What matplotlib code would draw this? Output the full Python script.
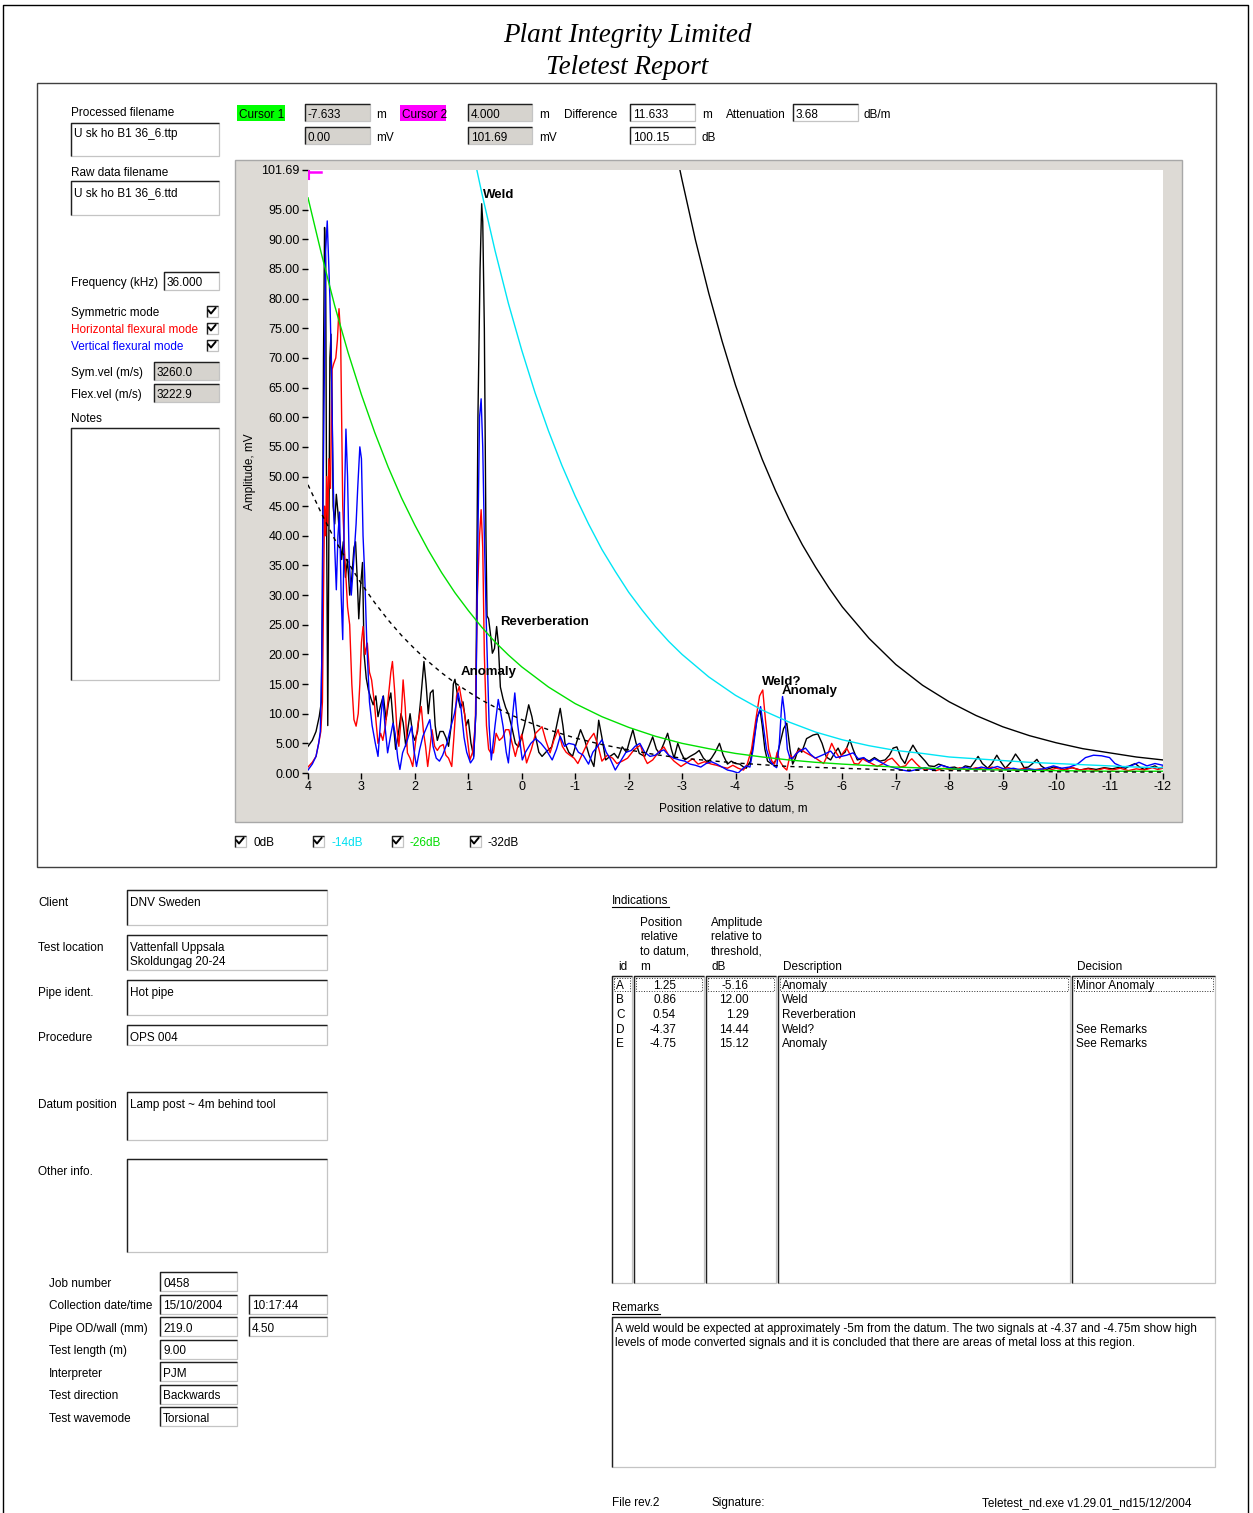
import matplotlib
matplotlib.use("Agg")
import matplotlib.pyplot as plt
from matplotlib.patches import Rectangle

W, H = 1253, 1513
FONT = "Liberation Sans"

# ---- data read from the report ----
# symmetric mode (black), horizontal flexural (red), vertical flexural (blue): (position m, amplitude mV)
sym_pts = [(4.00, 4.5), (3.92, 5.5), (3.85, 7.0), (3.79, 9.5), (3.75, 12.0), (3.73, 30), (3.71, 70), (3.69, 92.0),
           (3.67, 86), (3.65, 40), (3.63, 8.0), (3.61, 40), (3.59, 70), (3.57, 74.0), (3.55, 62), (3.53, 45),
           (3.50, 42), (3.47, 47), (3.44, 44), (3.41, 40), (3.37, 36), (3.34, 39), (3.30, 33), (3.26, 36),
           (3.22, 30), (3.18, 33), (3.14, 38), (3.11, 39), (3.08, 33), (3.05, 26), (3.02, 31), (2.98, 35.5),
           (2.95, 20), (2.91, 16), (2.87, 14), (2.82, 12.5), (2.78, 11.5), (2.73, 13), (2.69, 9.5), (2.64, 11.5),
           (2.59, 13), (2.54, 9.0), (2.49, 12), (2.45, 13.5), (2.41, 9.0), (2.36, 4.0), (2.31, 6.5), (2.26, 10.0),
           (2.22, 8.5), (2.17, 4.5), (2.13, 7.5), (2.09, 10), (2.04, 6.5), (2.00, 5.5), (1.95, 7.0), (1.89, 12.5),
           (1.83, 18.8), (1.79, 15), (1.75, 10), (1.71, 13.5), (1.66, 14.0), (1.62, 8.0), (1.58, 5.5), (1.53, 7.0),
           (1.47, 7.0), (1.42, 6.0), (1.37, 4.5), (1.32, 8), (1.28, 15.0), (1.25, 15.8), (1.20, 13), (1.15, 11),
           (1.10, 12), (1.04, 8.0), (1.00, 9.0), (0.95, 5), (0.90, 2.8), (0.86, 10), (0.82, 60), (0.78, 85),
           (0.75, 96.0), (0.73, 93), (0.70, 75), (0.67, 40), (0.65, 26.5), (0.62, 26), (0.58, 23), (0.55, 20.2),
           (0.51, 21), (0.47, 24.7), (0.44, 22), (0.40, 14.5), (0.35, 12.5), (0.30, 11.0), (0.25, 10.0),
           (0.18, 7.5), (0.12, 5.0), (0.06, 4.4), (0.02, 5.5), (-0.05, 8), (-0.13, 11.5), (-0.19, 9.5),
           (-0.26, 6.1), (-0.32, 3.5), (-0.38, 2.8), (-0.45, 3.5), (-0.56, 4.4), (-0.63, 7), (-0.72, 10.9),
           (-0.77, 8), (-0.81, 5.0), (-0.88, 3.5), (-0.95, 2.8), (-1.02, 5), (-1.10, 7.3), (-1.18, 5.5),
           (-1.26, 3), (-1.35, 1.1), (-1.40, 5), (-1.44, 8.9), (-1.50, 6), (-1.57, 2.2), (-1.65, 2.8),
           (-1.73, 3.3), (-1.80, 2.5), (-1.88, 4.4), (-1.96, 3.5), (-2.02, 5.5), (-2.08, 7.3), (-2.14, 5),
           (-2.20, 3.3), (-2.30, 2.8), (-2.38, 4.5), (-2.45, 6.1), (-2.52, 4), (-2.58, 3.3), (-2.66, 5),
           (-2.73, 6.7), (-2.80, 4), (-2.85, 2.5), (-2.92, 5.0), (-2.98, 3.5), (-3.05, 2.2), (-3.15, 2.8),
           (-3.25, 3.3), (-3.32, 3.8), (-3.40, 2.5), (-3.48, 1.8), (-3.55, 2.5), (-3.62, 3.5), (-3.70, 5.0),
           (-3.77, 3.0), (-3.85, 1.5), (-3.92, 2.0), (-4.00, 1.6), (-4.08, 1.5), (-4.15, 1.0), (-4.20, 0.8),
           (-4.28, 2), (-4.35, 6), (-4.41, 9.5), (-4.46, 10.6), (-4.50, 8), (-4.55, 4), (-4.60, 2.0),
           (-4.68, 1.5), (-4.75, 2.0), (-4.82, 4.5), (-4.90, 7.5), (-4.96, 8.4), (-5.02, 4), (-5.07, 1.5),
           (-5.12, 2.5), (-5.18, 4.2), (-5.24, 3.5), (-5.33, 5.8), (-5.45, 6.4), (-5.54, 6.6), (-5.62, 5.0),
           (-5.70, 2.7), (-5.78, 2.2), (-5.85, 3.3), (-5.92, 4.2), (-5.98, 3.0), (-6.05, 3.5), (-6.14, 5.6),
           (-6.20, 4.0), (-6.28, 2.2), (-6.40, 2.5), (-6.50, 2.0), (-6.60, 2.6), (-6.70, 2.0), (-6.80, 2.2),
           (-6.88, 3.0), (-6.95, 4.2), (-7.02, 4.4), (-7.10, 2.5), (-7.17, 1.6), (-7.25, 3.5), (-7.32, 4.7),
           (-7.40, 3.5), (-7.48, 2.7), (-7.55, 2.0), (-7.62, 1.2), (-7.72, 1.1), (-7.80, 1.5), (-7.90, 1.2),
           (-8.00, 0.9), (-8.10, 1.0), (-8.20, 0.6), (-8.30, 1.2), (-8.40, 1.0), (-8.48, 2.0), (-8.54, 2.8),
           (-8.62, 1.6), (-8.72, 0.8), (-8.80, 1.6), (-8.89, 3.0), (-8.97, 1.8), (-9.05, 0.8), (-9.15, 1.8),
           (-9.24, 3.2), (-9.32, 2.2), (-9.40, 0.9), (-9.48, 1.0), (-9.56, 1.6), (-9.64, 2.3), (-9.72, 1.2),
           (-9.82, 0.6), (-9.95, 1.0), (-10.05, 0.9), (-10.15, 0.6), (-10.30, 0.9), (-10.45, 0.5), (-10.60, 0.8),
           (-10.75, 0.6), (-10.90, 0.9), (-11.05, 0.7), (-11.20, 1.0), (-11.30, 0.8), (-11.40, 1.3),
           (-11.48, 1.6), (-11.56, 1.0), (-11.65, 0.6), (-11.75, 0.9), (-11.85, 1.2), (-11.92, 0.8), (-12.00, 1.0)]

hor_pts = [(4.00, 1.0), (3.92, 1.8), (3.85, 2.8), (3.79, 5.5), (3.76, 7.0), (3.73, 12), (3.71, 30), (3.69, 45),
           (3.67, 40), (3.65, 50), (3.63, 42), (3.61, 53), (3.58, 48), (3.55, 68), (3.52, 69), (3.48, 70),
           (3.45, 73), (3.42, 78.3), (3.39, 74), (3.37, 60), (3.35, 45), (3.32, 38), (3.29, 33), (3.26, 28),
           (3.22, 25), (3.18, 15), (3.14, 9), (3.10, 7.9), (3.06, 10), (3.03, 15), (3.00, 22), (2.97, 24.7),
           (2.93, 20), (2.89, 21.9), (2.85, 17), (2.81, 15.7), (2.76, 12), (2.72, 8), (2.69, 5.0), (2.64, 6.7),
           (2.60, 5.5), (2.55, 8.0), (2.50, 12.5), (2.45, 17), (2.42, 18.8), (2.38, 14), (2.34, 8), (2.30, 4.5),
           (2.26, 9), (2.22, 15.7), (2.18, 11), (2.14, 3.4), (2.09, 2.5), (2.04, 1.1), (1.99, 5), (1.93, 9),
           (1.88, 11.2), (1.84, 7), (1.80, 4.5), (1.76, 1.1), (1.72, 4), (1.68, 7.3), (1.63, 4.5), (1.58, 3.8),
           (1.53, 4.5), (1.47, 4.8), (1.42, 3.0), (1.37, 2.5), (1.31, 1.1), (1.27, 6), (1.22, 13), (1.17, 14.6),
           (1.12, 12), (1.07, 10), (1.02, 6), (0.97, 2.2), (0.92, 3.5), (0.87, 8), (0.83, 30), (0.79, 40),
           (0.76, 44.4), (0.73, 38), (0.70, 20), (0.66, 8), (0.62, 4.0), (0.58, 3.4), (0.53, 3.4), (0.48, 6.7),
           (0.42, 5.5), (0.36, 6.0), (0.30, 7.3), (0.24, 7.3), (0.18, 5.0), (0.12, 2.8), (0.06, 5), (0.00, 6.5),
           (-0.09, 1.7), (-0.18, 4), (-0.26, 6.7), (-0.38, 7.8), (-0.45, 5.5), (-0.53, 3.4), (-0.60, 5.5),
           (-0.68, 7.3), (-0.76, 4.5), (-0.83, 3.5), (-0.90, 3.0), (-0.98, 2.5), (-1.05, 1.6), (-1.15, 3.5),
           (-1.26, 5.6), (-1.35, 6.7), (-1.43, 4.5), (-1.50, 2.0), (-1.60, 3.0), (-1.70, 2.5), (-1.78, 1.6),
           (-1.88, 2.0), (-1.98, 2.5), (-2.10, 3.9), (-2.22, 4.7), (-2.30, 2.5), (-2.35, 1.6), (-2.45, 2.2),
           (-2.56, 3.5), (-2.66, 4.4), (-2.75, 3.0), (-2.85, 2.0), (-2.98, 1.1), (-3.10, 1.8), (-3.20, 2.4),
           (-3.30, 1.5), (-3.42, 1.9), (-3.55, 1.5), (-3.65, 1.3), (-3.75, 1.0), (-3.85, 0.8), (-3.95, 1.3),
           (-4.05, 0.8), (-4.15, 0.5), (-4.22, 1.5), (-4.30, 4), (-4.38, 9), (-4.45, 13), (-4.51, 14.0),
           (-4.56, 9), (-4.62, 4), (-4.68, 2.0), (-4.73, 1.5), (-4.78, 3.5), (-4.83, 2.0), (-4.90, 1.0),
           (-4.96, 0.5), (-5.02, 3.0), (-5.08, 2.5), (-5.15, 3.5), (-5.22, 4.0), (-5.30, 3.5), (-5.40, 3.0),
           (-5.50, 2.5), (-5.58, 2.0), (-5.65, 1.6), (-5.72, 3.0), (-5.80, 5.0), (-5.88, 3.5), (-5.95, 2.5),
           (-6.02, 3.5), (-6.08, 4.2), (-6.15, 3.0), (-6.22, 1.6), (-6.30, 1.5), (-6.38, 2.4), (-6.45, 2.0),
           (-6.55, 1.6), (-6.65, 1.1), (-6.75, 1.5), (-6.85, 2.2), (-6.93, 2.5), (-7.00, 1.8), (-7.08, 1.0),
           (-7.18, 1.2), (-7.25, 2.0), (-7.30, 2.4), (-7.38, 1.6), (-7.45, 1.0), (-7.55, 0.5), (-7.65, 0.8),
           (-7.75, 0.4), (-7.90, 0.8), (-8.05, 0.5), (-8.20, 0.9), (-8.35, 0.5), (-8.50, 0.9), (-8.65, 0.6),
           (-8.80, 1.0), (-8.95, 0.6), (-9.10, 0.9), (-9.25, 0.5), (-9.40, 0.8), (-9.55, 0.5), (-9.70, 0.7),
           (-9.85, 0.4), (-10.00, 0.8), (-10.15, 0.5), (-10.30, 0.9), (-10.45, 0.5), (-10.60, 0.7),
           (-10.75, 0.4), (-10.90, 0.8), (-11.05, 0.5), (-11.20, 0.8), (-11.35, 0.4), (-11.50, 0.7),
           (-11.65, 0.5), (-11.80, 0.9), (-11.90, 0.6), (-12.00, 0.8)]

ver_pts = [(4.00, 0.5), (3.92, 1.5), (3.85, 2.8), (3.80, 5), (3.77, 7), (3.74, 20), (3.72, 45), (3.70, 62),
           (3.67, 88), (3.64, 93.1), (3.62, 88), (3.59, 80), (3.56, 68), (3.53, 50), (3.50, 38), (3.47, 30.9),
           (3.44, 40), (3.41, 44), (3.38, 30), (3.35, 22.5), (3.32, 45), (3.29, 58), (3.26, 50), (3.23, 36),
           (3.19, 30), (3.15, 35), (3.10, 42), (3.07, 48), (3.03, 55), (3.00, 53), (2.97, 40), (2.94, 33.7),
           (2.90, 22), (2.85, 12), (2.80, 8), (2.74, 5), (2.69, 2.8), (2.64, 9), (2.60, 12.9), (2.56, 8),
           (2.51, 3.4), (2.46, 6), (2.41, 8.4), (2.37, 6.7), (2.32, 2.5), (2.28, 0.6), (2.23, 3.4), (2.16, 5),
           (2.06, 7.9), (2.02, 4), (1.97, 1.1), (1.91, 4), (1.85, 6.2), (1.79, 7.5), (1.72, 9.0), (1.66, 4.5),
           (1.60, 2.5), (1.54, 2.0), (1.48, 3.0), (1.40, 5.0), (1.32, 8), (1.26, 10.0), (1.19, 13.5),
           (1.14, 11.2), (1.08, 6), (1.03, 3.5), (0.96, 1.7), (0.90, 2.5), (0.86, 10), (0.82, 40), (0.79, 60),
           (0.76, 63.1), (0.73, 55), (0.70, 40), (0.66, 24), (0.61, 8), (0.57, 2.2), (0.50, 8), (0.44, 12.4),
           (0.39, 10), (0.35, 7.9), (0.29, 3.5), (0.25, 1.7), (0.19, 8), (0.13, 13.5), (0.08, 8.4), (0.03, 5),
           (-0.01, 2.2), (-0.07, 3.5), (-0.17, 5), (-0.26, 5.8), (-0.36, 5.0), (-0.45, 4.0), (-0.57, 2.2),
           (-0.65, 4), (-0.72, 6.2), (-0.80, 4.5), (-0.88, 5.0), (-0.98, 4.8), (-1.06, 3.5), (-1.15, 3.0),
           (-1.25, 1.5), (-1.33, 3.5), (-1.42, 4.5), (-1.50, 5.6), (-1.58, 3.5), (-1.65, 2.5), (-1.75, 0.5),
           (-1.85, 2.0), (-1.95, 3.5), (-2.05, 3.8), (-2.12, 4.5), (-2.21, 5.0), (-2.30, 3.5), (-2.40, 2.8),
           (-2.50, 3.0), (-2.58, 3.6), (-2.66, 3.9), (-2.75, 3.0), (-2.85, 2.5), (-2.95, 2.2), (-3.05, 2.0),
           (-3.15, 1.5), (-3.25, 1.3), (-3.35, 1.0), (-3.45, 1.6), (-3.55, 1.9), (-3.65, 1.5), (-3.75, 1.0),
           (-3.85, 0.5), (-3.95, 0.3), (-4.05, 0.0), (-4.12, 0.6), (-4.20, 1.2), (-4.27, 1.0), (-4.33, 4),
           (-4.40, 9.0), (-4.47, 11.2), (-4.52, 8), (-4.58, 4), (-4.65, 2.0), (-4.72, 1.2), (-4.77, 0.9),
           (-4.82, 5), (-4.86, 11), (-4.88, 12.9), (-4.92, 10), (-4.97, 4), (-5.02, 2.5), (-5.07, 2.5),
           (-5.13, 3.2), (-5.20, 3.7), (-5.31, 4.2), (-5.40, 3.2), (-5.49, 2.5), (-5.57, 2.8), (-5.67, 3.2),
           (-5.78, 3.7), (-5.88, 2.6), (-5.98, 2.8), (-6.08, 3.0), (-6.20, 3.4), (-6.30, 2.4), (-6.40, 2.6),
           (-6.50, 1.8), (-6.60, 2.4), (-6.72, 1.8), (-6.85, 1.2), (-7.00, 0.8), (-7.12, 0.5), (-7.25, 0.3),
           (-7.40, 0.6), (-7.55, 0.9), (-7.70, 0.5), (-7.85, 1.3), (-8.00, 0.9), (-8.15, 0.6), (-8.30, 1.0),
           (-8.45, 0.6), (-8.60, 1.0), (-8.75, 0.7), (-8.90, 1.1), (-9.05, 0.6), (-9.20, 0.8), (-9.35, 0.5),
           (-9.50, 0.7), (-9.65, 0.5), (-9.80, 0.8), (-9.95, 1.2), (-10.10, 0.8), (-10.25, 1.0), (-10.40, 1.5),
           (-10.55, 2.6), (-10.70, 3.0), (-10.85, 2.9), (-11.00, 2.6), (-11.10, 1.6), (-11.25, 1.0),
           (-11.40, 1.2), (-11.55, 1.8), (-11.70, 1.2), (-11.85, 1.6), (-12.00, 1.3)]

# threshold (DAC) curves
dac0_pts = [(-2.96, 101.69), (-3.0, 100.0), (-3.25, 89.9), (-3.5, 80.9), (-3.75, 72.8), (-4.0, 65.4),
            (-4.25, 58.9), (-4.5, 52.9), (-4.75, 47.6), (-5.0, 42.8), (-5.25, 38.5), (-5.5, 34.7), (-5.75, 31.2),
            (-6.0, 28.0), (-6.5, 22.7), (-7.0, 18.3), (-7.5, 14.8), (-8.0, 12.0), (-8.5, 9.7), (-9.0, 7.8),
            (-9.5, 6.3), (-10.0, 5.1), (-10.5, 4.1), (-11.0, 3.4), (-11.5, 2.7), (-12.0, 2.2)]
dac14_pts = [(0.84, 101.69), (0.75, 97.9), (0.5, 88.1), (0.25, 79.2), (0.0, 71.3), (-0.25, 64.1), (-0.5, 57.7),
             (-0.75, 51.9), (-1.0, 46.7), (-1.25, 42.0), (-1.5, 37.7), (-1.75, 34.0), (-2.0, 30.5),
             (-2.25, 27.5), (-2.5, 24.7), (-2.75, 22.2), (-3.0, 20.0), (-3.5, 16.2), (-4.0, 13.1), (-4.5, 10.6),
             (-5.0, 8.6), (-5.5, 6.9), (-6.0, 5.6), (-6.5, 4.6), (-7.0, 3.8), (-7.5, 3.3), (-8.0, 2.7),
             (-8.5, 2.4), (-9.0, 2.1), (-9.5, 1.8), (-10.0, 1.6), (-10.5, 1.4), (-11.0, 1.2), (-11.5, 1.0),
             (-12.0, 0.9)]
dac26_pts = [(4.0, 97.0), (3.75, 87.6), (3.5, 78.8), (3.25, 70.9), (3.0, 63.8), (2.75, 57.4), (2.5, 51.6),
             (2.25, 46.4), (2.0, 41.8), (1.75, 37.6), (1.5, 33.8), (1.25, 30.4), (1.0, 27.4), (0.75, 24.6),
             (0.5, 22.1), (0.25, 19.9), (0.0, 17.9), (-0.5, 14.5), (-1.0, 11.7), (-1.5, 9.5), (-2.0, 7.7),
             (-2.5, 6.2), (-3.0, 5.0), (-3.5, 4.1), (-4.0, 3.3), (-4.5, 2.7), (-5.0, 2.2), (-5.5, 1.8),
             (-6.0, 1.5), (-7.0, 1.0), (-8.0, 0.7), (-9.0, 0.5), (-10.0, 0.4), (-11.0, 0.3), (-12.0, 0.3)]
dac32_pts = [(4.0, 48.6), (3.75, 43.8), (3.5, 39.4), (3.25, 35.5), (3.0, 31.9), (2.75, 28.7), (2.5, 25.8),
             (2.25, 23.2), (2.0, 20.9), (1.75, 18.8), (1.5, 16.9), (1.25, 15.2), (1.0, 13.7), (0.75, 12.3),
             (0.5, 11.1), (0.25, 10.0), (0.0, 9.0), (-0.5, 7.3), (-1.0, 5.9), (-1.5, 4.8), (-2.0, 3.9),
             (-2.5, 3.1), (-3.0, 2.5), (-3.5, 2.1), (-4.0, 1.7), (-4.5, 1.4), (-5.0, 1.1), (-6.0, 0.8),
             (-7.0, 0.5), (-8.0, 0.4), (-10.0, 0.2), (-12.0, 0.15)]

peak_labels = ["Weld", "Reverberation", "Anomaly", "Weld?", "Anomaly"]
peak_x = [0.73, 0.41, 1.14, -4.50, -4.87]
peak_y = [97.4, 25.4, 17.0, 15.4, 13.9]

cursor2 = (4.0, 101.69)

y_ticks = [0, 5, 10, 15, 20, 25, 30, 35, 40, 45, 50, 55, 60, 65, 70, 75, 80, 85, 90, 95, 101.69]
x_ticks = list(range(4, -13, -1))

ind_id = ["A", "B", "C", "D", "E"]
ind_pos = ["1.25", "0.86", "0.54", "-4.37", "-4.75"]
ind_amp = ["-5.16", "12.00", "1.29", "14.44", "15.12"]
ind_desc = ["Anomaly", "Weld", "Reverberation", "Weld?", "Anomaly"]
ind_dec = ["Minor Anomaly", "", "", "See Remarks", "See Remarks"]

job_labels = ["Job number", "Collection date/time", "Pipe OD/wall (mm)", "Test length (m)",
              "Interpreter", "Test direction", "Test wavemode"]
job_values = ["0458", "15/10/2004", "219.0", "9.00", "PJM", "Backwards", "Torsional"]
job_extra = ["", "10:17:44", "4.50", "", "", "", ""]

# ---- page ----
fig = plt.figure(figsize=(W / 100, H / 100), dpi=100)
bg = fig.add_axes([0, 0, 1, 1], zorder=0)
bg.set_xlim(0, W)
bg.set_ylim(H, 0)
bg.axis("off")


def label(x, y, s, color="black", size=8.5, **kw):
    # small offset: matplotlib centres on the full glyph box, the form text sits a bit lower
    bg.text(x, y + 1.8, s, fontsize=size, color=color, family=FONT, va="center", ha=kw.pop("ha", "left"), **kw)


def box(x0, y0, x1, y1, face="white"):
    bg.add_patch(Rectangle((x0, y0), x1 - x0, y1 - y0, facecolor=face, edgecolor="#c4c4c4", lw=0.9))
    bg.plot([x0, x0, x1], [y1, y0, y0], color="#202020", lw=1.0, solid_capstyle="butt")


def checkbox(x, y):
    box(x - 5.5, y - 5.5, x + 5.5, y + 5.5)
    bg.plot([x - 3.5, x - 1, x + 3.5], [y - 0.5, y + 2.5, y - 3], color="black", lw=1.4)


# page border (open at the bottom, the scan is cut there) and title
bg.plot([3, 3, 1248, 1248], [H, 5, 5, H], color="black", lw=1.0)
bg.text(627, 35, "Plant Integrity Limited", fontsize=19.5, style="italic", family="Liberation Serif",
        ha="center", va="center")
bg.text(627, 68, "Teletest Report", fontsize=19.5, style="italic", family="Liberation Serif",
        ha="center", va="center")

# top panel
bg.add_patch(Rectangle((37, 83), 1179, 784, fill=False, edgecolor="#404040", lw=1.0))

label(71, 111, "Processed filename")
box(71, 123, 219, 156)
label(74, 132, "U sk ho B1 36_6.ttp")
label(71, 171, "Raw data filename")
box(71, 181, 219, 215)
label(74, 191, "U sk ho B1 36_6.ttd")
label(71, 281, "Frequency (kHz)")
box(164, 272, 219, 290)
label(167, 281, "36.000")
label(71, 311, "Symmetric mode")
label(71, 328, "Horizontal flexural mode", color="#ff0000")
label(71, 345, "Vertical flexural mode", color="#0000ff")
for cy in (311, 328, 345):
    checkbox(212, cy)
label(71, 371, "Sym.vel (m/s)")
box(154, 362, 219, 380, face="#d6d3ce")
label(157, 371, "3260.0")
label(71, 393, "Flex.vel (m/s)")
box(154, 384, 219, 402, face="#d6d3ce")
label(157, 393, "3222.9")
label(71, 417, "Notes")
box(71, 428, 219, 680)

# cursor read-outs
bg.add_patch(Rectangle((237, 105), 48, 16, facecolor="#00ff00", edgecolor="none"))
label(239, 113, "Cursor 1")
box(305, 104, 370, 121, face="#d6d3ce")
label(308, 113, "-7.633")
label(376, 113, "m")
box(305, 127, 370, 144, face="#d6d3ce")
label(308, 136, "0.00")
label(376, 136, "mV")
bg.add_patch(Rectangle((400, 105), 46, 16, facecolor="#ff00ff", edgecolor="none"))
label(402, 113, "Cursor 2")
box(468, 104, 532, 121, face="#d6d3ce")
label(471, 113, "4.000")
label(539, 113, "m")
box(468, 127, 532, 144, face="#d6d3ce")
label(471, 136, "101.69")
label(539, 136, "mV")
label(564, 113, "Difference")
box(630, 104, 695, 121)
label(633, 113, "11.633")
label(702, 113, "m")
box(630, 127, 695, 144)
label(633, 136, "100.15")
label(702, 136, "dB")
label(726, 113, "Attenuation")
box(793, 104, 858, 121)
label(796, 113, "3.68")
label(864, 113, "dB/m")

# chart panel background
bg.add_patch(Rectangle((235, 160), 947, 662, facecolor="#dddad5", edgecolor="#a8a8a8", lw=1.0))
bg.text(250, 472, "Amplitude, mV", rotation=90, fontsize=8.5, family=FONT, ha="center", va="center")
label(733, 807, "Position relative to datum, m", ha="center")

# legend checkboxes
for lx, txt, col in [(240, "0dB", "black"), (318, "-14dB", "#00e0f0"), (397, "-26dB", "#00dd00"),
                     (475, "-32dB", "black")]:
    checkbox(lx, 841)
    label(lx + 13, 841, txt, color=col)

# ---- chart ----
ax = fig.add_axes([308 / W, 1 - 773 / H, 855 / W, 603 / H], zorder=2)
ax.set_facecolor("white")
ax.set_xlim(4, -12)
ax.set_ylim(0, 101.69)
for s in ax.spines.values():
    s.set_visible(False)

for pts, col in [(sym_pts, "black"), (hor_pts, "#ff0000"), (ver_pts, "#0000ff")]:
    xs, ys = zip(*pts)
    ax.plot(xs, ys, color=col, lw=1.0)

for pts, col, ls in [(dac0_pts, "black", "-"), (dac14_pts, "#00e5f5", "-"), (dac26_pts, "#00e000", "-"),
                     (dac32_pts, "black", (0, (3, 3)))]:
    xs, ys = zip(*pts)
    ax.plot(xs, ys, color=col, lw=1.0, ls=ls)

# cursor 2 marker in the top-left corner
ax.plot([cursor2[0], cursor2[0] - 0.24], [cursor2[1] - 0.3, cursor2[1] - 0.3], color="#ff00ff", lw=1.8)
ax.plot([cursor2[0] - 0.01, cursor2[0] - 0.01], [cursor2[1], cursor2[1] - 1.5], color="#ff00ff", lw=1.5)

for t, px_, py_ in zip(peak_labels, peak_x, peak_y):
    ax.text(px_, py_, t, fontsize=9.5, fontweight="bold", family=FONT, ha="left", va="center")

ax.set_yticks(y_ticks)
ax.set_yticklabels([f"{v:.2f}" for v in y_ticks])
ax.set_xticks(x_ticks)
ax.set_xticklabels([str(v) for v in x_ticks])
ax.tick_params(direction="out", length=4, width=1, labelsize=9, pad=2, color="black")
for lab in ax.get_xticklabels() + ax.get_yticklabels():
    lab.set_family(FONT)

# ---- bottom form ----
label(38, 901, "Client")
box(127, 890, 327, 925)
label(130, 901, "DNV Sweden")
label(38, 946, "Test location")
box(127, 935, 327, 970)
label(130, 946, "Vattenfall Uppsala")
label(130, 960, "Skoldungag 20-24")
label(38, 991, "Pipe ident.")
box(127, 980, 327, 1015)
label(130, 991, "Hot pipe")
label(38, 1036, "Procedure")
box(127, 1025, 327, 1045)
label(130, 1036, "OPS 004")
label(38, 1103, "Datum position")
box(127, 1092, 327, 1140)
label(130, 1103, "Lamp post ~ 4m behind tool")
label(38, 1170, "Other info.")
box(127, 1159, 327, 1252)

for i, (jl, jv, je) in enumerate(zip(job_labels, job_values, job_extra)):
    yy = 1282 + i * 22.5
    label(49, yy, jl)
    box(160, yy - 10, 237, yy + 9)
    label(163, yy, jv)
    if je:
        box(249, yy - 10, 327, yy + 9)
        label(252, yy, je)

# indications table
label(612, 899, "Indications")
bg.plot([612, 669], [907, 907], color="black", lw=0.8)
label(618, 965, "id")
for j, s in enumerate(["Position", "relative", "to datum,", "m"]):
    label(640, 921 + j * 14.6, s)
for j, s in enumerate(["Amplitude", "relative to", "threshold,", "dB"]):
    label(711, 921 + j * 14.6, s)
label(783, 965, "Description")
label(1077, 965, "Decision")

cols = [(612, 632), (634, 704), (706, 776), (778, 1070), (1072, 1215)]
for c0, c1 in cols:
    box(c0, 976, c1, 1283)
    bg.add_patch(Rectangle((c0 + 2, 978), c1 - c0 - 4, 13, fill=False, edgecolor="#303030", lw=0.7, ls=":"))

for i in range(len(ind_id)):
    yy = 984 + i * 14.6
    label(616, yy, ind_id[i])
    label(676, yy, ind_pos[i], ha="right")
    label(749, yy, ind_amp[i], ha="right")
    label(782, yy, ind_desc[i])
    label(1076, yy, ind_dec[i])

# remarks
label(612, 1306, "Remarks")
bg.plot([612, 660], [1314, 1314], color="black", lw=0.8)
box(612, 1317, 1215, 1467)
label(615, 1327, "A weld would be expected at approximately -5m from the datum. The two signals at -4.37 "
                 "and -4.75m show high")
label(615, 1341, "levels of mode converted signals and it is concluded that there are areas of metal loss "
                 "at this region.")

label(612, 1501, "File rev.2")
label(712, 1501, "Signature:")
label(982, 1501, "Teletest_nd.exe v1.29.01_nd15/12/2004")

fig.savefig("out.png", dpi=100)
plt.close(fig)
